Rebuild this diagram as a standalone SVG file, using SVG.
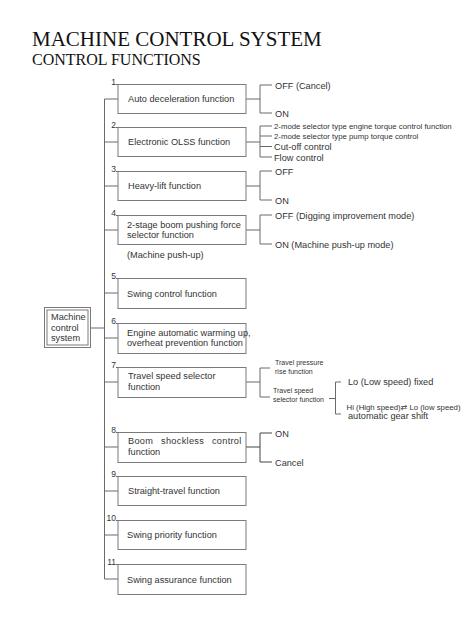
<svg xmlns="http://www.w3.org/2000/svg" width="474" height="632" viewBox="0 0 474 632">
<style>
  .bg { fill: #ffffff; }
  .box { fill: #ffffff; stroke: #7a7a7a; stroke-width: 1; }
  .ln { fill: none; stroke: #6a6a6a; stroke-width: 1; }
  .t { font-family: "Liberation Sans", Arial, sans-serif; font-size: 9.2px; fill: #333333; }
  .s { font-family: "Liberation Sans", Arial, sans-serif; font-size: 7.8px; fill: #333333; }
  .xs { font-family: "Liberation Sans", Arial, sans-serif; font-size: 7px; fill: #333333; }
  .num { font-family: "Liberation Sans", Arial, sans-serif; font-size: 8.5px; fill: #333333; text-anchor: end; }
  .title { font-family: "Liberation Serif", "Times New Roman", serif; fill: #111111; }
</style>
<rect class="bg" x="0" y="0" width="474" height="632"/>

<g id="title">
  <text class="title" x="32" y="46" font-size="21">MACHINE CONTROL SYSTEM</text>
  <text class="title" x="32" y="65" font-size="16">CONTROL FUNCTIONS</text>
</g>

<g id="connectors">
  <!-- root to trunk -->
  <path class="ln" d="M91 328 H104.5"/>
  <!-- trunk -->
  <path class="ln" d="M104.5 99 V579"/>
  <!-- ticks to boxes -->
  <path class="ln" d="M104.5 99 H118 M104.5 142 H118 M104.5 186 H118 M104.5 230 H118 M104.5 293 H118 M104.5 338 H118 M104.5 382 H118 M104.5 447 H118 M104.5 491 H118 M104.5 535 H118 M104.5 579 H118"/>
  <!-- number leaders -->
  <path class="ln" d="M116 84.5 H118 M116 127.5 H118 M116 171.5 H118 M116 215.5 H118 M116 278.5 H118 M116 323.5 H118 M116 367.5 H118 M116 432.5 H118 M116 476.5 H118 M116 520.5 H118 M116 564.5 H118"/>
  <!-- 1 -->
  <path class="ln" d="M246 99 H260 M272 85 H260 V113 H272"/>
  <!-- 2 -->
  <path class="ln" d="M246 142 H260 M272 126 H260 V157 H272 M260 136 H272 M260 146.5 H272"/>
  <!-- 3 -->
  <path class="ln" d="M246 186 H260 M272 171 H260 V200 H272"/>
  <!-- 4 -->
  <path class="ln" d="M246 230 H260 M272 215 H260 V244 H272"/>
  <!-- 7 -->
  <path class="ln" d="M246 382 H260 M270 368 H260 V397 H270"/>
  <path class="ln" d="M329 398.5 H335.5 M341 382 H335.5 V414 H341"/>
  <!-- 8 -->
  <path class="ln" d="M246 447 H260 M272 433 H260 V462 H272" style="stroke:#444"/>
</g>

<g id="root">
  <rect class="box" x="44.5" y="307.5" width="46" height="40"/>
  <rect class="box" x="47" y="310" width="41" height="35"/>
  <text class="t" x="51" y="320">Machine</text>
  <text class="t" x="51" y="330.5">control</text>
  <text class="t" x="51" y="341">system</text>
</g>

<g id="n1">
  <rect class="box" x="118" y="84.5" width="128" height="29"/>
  <text class="num" x="116" y="85">1</text>
  <text class="t" x="128" y="102">Auto deceleration function</text>
  <text class="t" x="275" y="88.5">OFF (Cancel)</text>
  <text class="t" x="275" y="117">ON</text>
</g>

<g id="n2">
  <rect class="box" x="118" y="127.5" width="128" height="29"/>
  <text class="num" x="116" y="128">2</text>
  <text class="t" x="128" y="145">Electronic OLSS function</text>
  <text class="s" x="274" y="128.5">2-mode selector type engine torque control function</text>
  <text class="s" x="274" y="139">2-mode selector type pump torque control</text>
  <text class="t" x="274" y="150">Cut-off control</text>
  <text class="t" x="274" y="161">Flow control</text>
</g>

<g id="n3">
  <rect class="box" x="118" y="171.5" width="128" height="29"/>
  <text class="num" x="116" y="172">3</text>
  <text class="t" x="128" y="189">Heavy-lift function</text>
  <text class="t" x="275" y="174.5">OFF</text>
  <text class="t" x="275" y="203.5">ON</text>
</g>

<g id="n4">
  <rect class="box" x="118" y="215.5" width="128" height="29"/>
  <text class="num" x="116" y="216">4</text>
  <text class="t" x="127" y="227.5">2-stage boom pushing force</text>
  <text class="t" x="127" y="237.5">selector function</text>
  <text class="t" x="127" y="258">(Machine push-up)</text>
  <text class="t" x="275" y="218.5">OFF (Digging improvement mode)</text>
  <text class="t" x="275" y="247.5">ON (Machine push-up mode)</text>
</g>

<g id="n5">
  <rect class="box" x="118" y="278.5" width="128" height="30"/>
  <text class="num" x="116" y="279">5</text>
  <text class="t" x="127" y="297">Swing control function</text>
</g>

<g id="n6">
  <rect class="box" x="118" y="323.5" width="128" height="30"/>
  <text class="num" x="116" y="324">6</text>
  <text class="t" x="127" y="336" font-size="8.7">Engine automatic warming up,</text>
  <text class="t" x="127" y="346" font-size="8.7">overheat prevention function</text>
</g>

<g id="n7">
  <rect class="box" x="118" y="367.5" width="128" height="30"/>
  <text class="num" x="116" y="368">7</text>
  <text class="t" x="128" y="379" font-size="8.8">Travel speed selector</text>
  <text class="t" x="128" y="390" font-size="8.8">function</text>
  <text class="xs" x="275" y="364.5">Travel pressure</text>
  <text class="xs" x="275" y="373.5">rise function</text>
  <text class="xs" x="273" y="393">Travel speed</text>
  <text class="xs" x="273" y="402">selector function</text>
  <text class="t" x="348" y="385">Lo (Low speed) fixed</text>
  <text class="s" x="346.5" y="409.5" font-size="7.3">Hi (High speed)<tspan font-family="DejaVu Sans, sans-serif">⇄</tspan> Lo (low speed)</text>
  <text class="t" x="348" y="418.5">automatic gear shift</text>
</g>

<g id="n8">
  <rect class="box" x="118" y="432.5" width="128" height="30"/>
  <text class="num" x="116" y="433">8</text>
  <text class="t" x="128" y="444" word-spacing="5" letter-spacing="0.3">Boom shockless control</text>
  <text class="t" x="128" y="454.5">function</text>
  <text class="t" x="275" y="436.5">ON</text>
  <text class="t" x="275" y="465.5">Cancel</text>
</g>

<g id="n9">
  <rect class="box" x="118" y="476.5" width="128" height="29"/>
  <text class="num" x="116" y="477">9</text>
  <text class="t" x="128" y="494">Straight-travel function</text>
</g>

<g id="n10">
  <rect class="box" x="118" y="520.5" width="128" height="29"/>
  <text class="num" x="116" y="521">10</text>
  <text class="t" x="127" y="538">Swing priority function</text>
</g>

<g id="n11">
  <rect class="box" x="118" y="564.5" width="128" height="30"/>
  <text class="num" x="116" y="565">11</text>
  <text class="t" x="127" y="582.5">Swing assurance function</text>
</g>
</svg>
